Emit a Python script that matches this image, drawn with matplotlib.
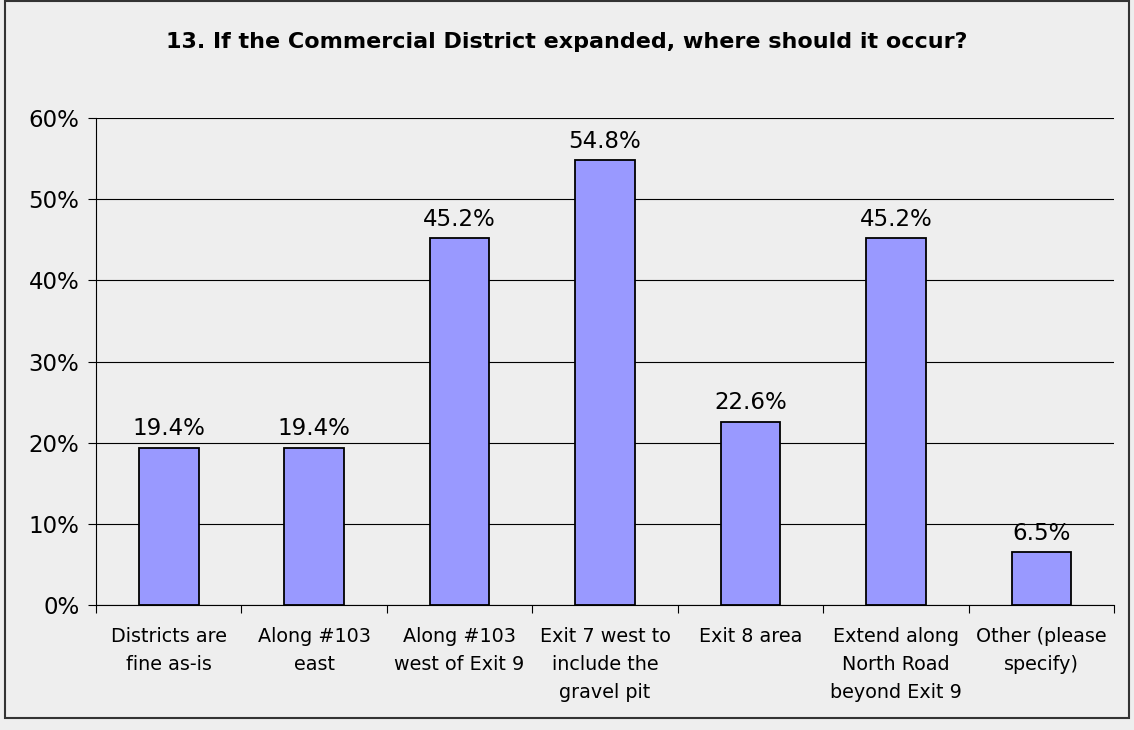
import matplotlib.pyplot as plt
from matplotlib.patches import Rectangle

categories = ['Districts are\nfine as-is', 'Along #103\neast', 'Along #103\nwest of Exit 9',
              'Exit 7 west to\ninclude the\ngravel pit', 'Exit 8 area',
              'Extend along\nNorth Road\nbeyond Exit 9', 'Other (please\nspecify)']
values = [19.4, 19.4, 45.2, 54.8, 22.6, 45.2, 6.5]
yticks = [0, 10, 20, 30, 40, 50, 60]
title = '13. If the Commercial District expanded, where should it occur?'

bg = '#eeeeee'
fig = plt.figure(figsize=(11.34, 7.30), dpi=100, facecolor=bg)
fig.patches.append(Rectangle((0.004, 0.017), 0.992, 0.981, transform=fig.transFigure,
                             fill=False, edgecolor='#333333', linewidth=1.5))

ax = fig.add_axes([0.0847, 0.1712, 0.8977, 0.667])
ax.set_facecolor(bg)

x = list(range(len(values)))
ax.bar(x, values, width=0.41, color='#9999ff', edgecolor='black', linewidth=1.3, zorder=3)
for xi, v in zip(x, values):
    ax.text(xi, v + 0.9, f'{v:.1f}%', ha='center', va='bottom', fontsize=16.5, zorder=4)

ax.set_xlim(-0.5, len(values) - 0.5)
ax.set_ylim(0, 60)
ax.set_yticks(yticks)
ax.set_yticklabels([f'{t}%' for t in yticks], fontsize=16.5)
ax.yaxis.grid(True, color='black', linewidth=0.8, zorder=0)
ax.set_axisbelow(True)

# category ticks on boundaries, labels centered
ax.set_xticks([i - 0.5 for i in range(len(values) + 1)])
ax.set_xticklabels([])
ax.set_xticks(x, minor=True)
ax.set_xticklabels(categories, minor=True, fontsize=13.8, linespacing=1.6)
ax.tick_params(axis='x', which='minor', length=0, pad=16)
ax.tick_params(axis='x', which='major', length=6, color='black')
ax.tick_params(axis='y', length=6, pad=6)

for s in ['top', 'right']:
    ax.spines[s].set_visible(False)
ax.spines['left'].set_color('black')
ax.spines['bottom'].set_color('black')

fig.text(0.5, 0.942, title, ha='center', va='center', fontsize=16, fontweight='bold')

fig.savefig('out.png', dpi=100, facecolor=bg)
